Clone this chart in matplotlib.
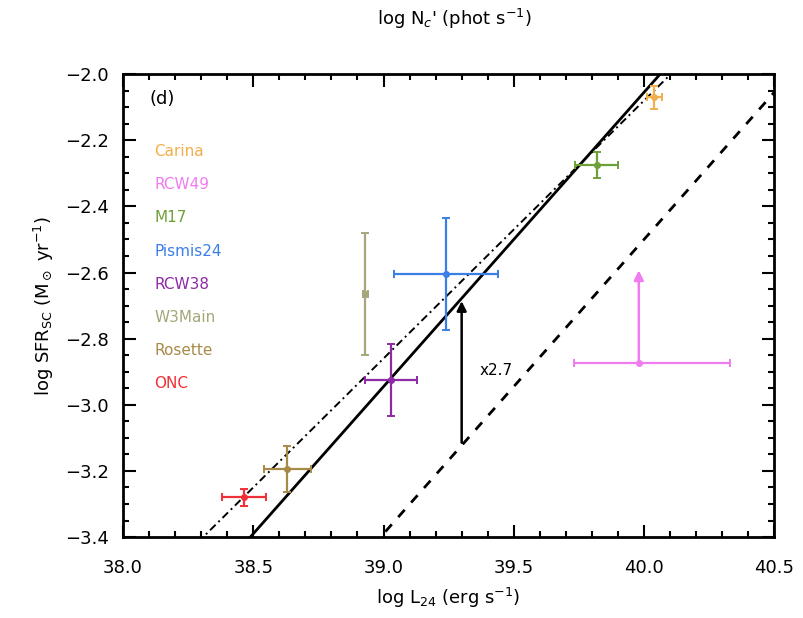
import matplotlib.pyplot as plt
from matplotlib.ticker import MultipleLocator, FuncFormatter

# cluster data: log L24, log SFR, errors (lo, hi)
names = ['Carina', 'RCW49', 'M17', 'Pismis24', 'RCW38', 'W3Main', 'Rosette', 'ONC']
colors = ['#F2AE4A', '#F07CF0', '#6EA03A', '#3A7FE6', '#8E2AA4', '#A6A67A', '#A88A48', '#F03038']
logL = [40.04, 39.98, 39.82, 39.24, 39.03, 38.93, 38.63, 38.465]
logSFR = [-2.07, -2.875, -2.275, -2.605, -2.925, -2.665, -3.195, -3.28]
xerr_lo = [0.03, 0.25, 0.085, 0.20, 0.10, 0.01, 0.09, 0.085]
xerr_hi = [0.03, 0.35, 0.080, 0.20, 0.10, 0.01, 0.09, 0.085]
yerr_lo = [0.035, 0.0, 0.04, 0.17, 0.11, 0.185, 0.07, 0.025]
yerr_hi = [0.035, 0.0, 0.04, 0.17, 0.11, 0.185, 0.07, 0.025]
# RCW49 is a lower limit
rcw49_arrow = 0.29

# relations: slope and value at log L24 = 39
solid_slope, solid_y39 = 0.89, -2.945
dashed_slope, dashed_y39 = 0.89, -3.39
dashdot_slope, dashdot_y39 = 0.78, -2.86

plt.rcParams['font.family'] = 'DejaVu Sans'
fig = plt.figure(figsize=(8.04, 6.18), dpi=100)
ax = fig.add_axes([0.153, 0.131, 0.810, 0.749])

xs = [38.0, 40.5]
ax.plot(xs, [solid_y39 + solid_slope * (x - 39) for x in xs], color='black', lw=2)
ax.plot(xs, [dashed_y39 + dashed_slope * (x - 39) for x in xs], color='black', lw=2,
        dashes=(3.5, 3.5))
ax.plot(xs, [dashdot_y39 + dashdot_slope * (x - 39) for x in xs], color='black', lw=1.4,
        dashes=(4, 2, 1, 2))

for i in range(len(names)):
    ax.errorbar(logL[i], logSFR[i], xerr=[[xerr_lo[i]], [xerr_hi[i]]],
                yerr=[[yerr_lo[i]], [yerr_hi[i]]], fmt='o', ms=4,
                color=colors[i], ecolor=colors[i], elinewidth=1.6, capsize=3, capthick=1.4)

# lower limit arrow for RCW49
ax.annotate('', xy=(logL[1], logSFR[1] + rcw49_arrow), xytext=(logL[1], logSFR[1]),
            arrowprops=dict(arrowstyle='-|>', color=colors[1], lw=1.8, mutation_scale=14))

# x2.7 offset arrow
xa = 39.3
ax.annotate('', xy=(xa, solid_y39 + solid_slope * (xa - 39)),
            xytext=(xa, dashed_y39 + dashed_slope * (xa - 39)),
            arrowprops=dict(arrowstyle='-|>', color='black', lw=1.8, mutation_scale=14))
ax.text(xa + 0.07, -2.895, 'x2.7', fontsize=11, va='center')

ax.text(38.1, -2.075, '(d)', fontsize=13, va='center')
for i, n in enumerate(names):
    ax.text(38.12, -2.235 - 0.1 * i, n, color=colors[i], fontsize=11, va='center')

fmt = FuncFormatter(lambda v, p: ('%.1f' % v).replace('-', '\u2212'))
ax.set_xlim(38.0, 40.5)
ax.set_ylim(-3.4, -2.0)
ax.xaxis.set_major_locator(MultipleLocator(0.5))
ax.xaxis.set_minor_locator(MultipleLocator(0.1))
ax.yaxis.set_major_locator(MultipleLocator(0.2))
ax.yaxis.set_minor_locator(MultipleLocator(0.05))
ax.yaxis.set_major_formatter(fmt)
ax.xaxis.set_major_formatter(fmt)
ax.tick_params(which='both', direction='in', top=True, right=True, labelsize=13, width=1.5)
ax.tick_params(which='major', length=9)
ax.tick_params(which='minor', length=4)
ax.tick_params(axis='x', pad=16)
ax.tick_params(axis='y', pad=10)
for s in ax.spines.values():
    s.set_linewidth(2)

ax.set_xlabel(r'log L$_{24}$ (erg s$^{-1}$)', fontsize=13, labelpad=6)
ax.set_ylabel(r'log SFR$_{\rm SC}$ (M$_\odot$ yr$^{-1}$)', fontsize=13, labelpad=7)
fig.text(0.565, 0.97, r"log N$_c$' (phot s$^{-1}$)", fontsize=13, ha='center', va='center')

plt.savefig('out.png')
